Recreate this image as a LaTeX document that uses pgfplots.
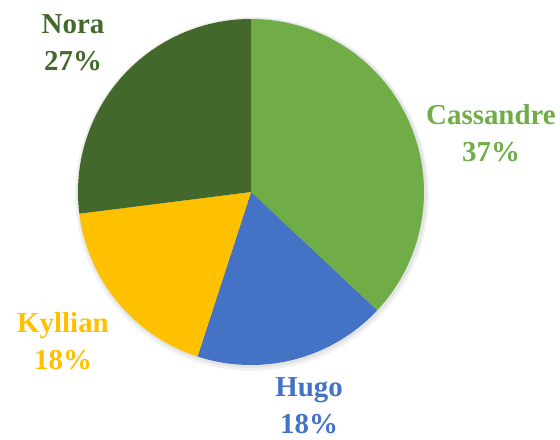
\documentclass[border=0pt]{standalone}
\usepackage{pgfplots}
\pgfplotsset{compat=1.18}
\usepackage{fontspec}
\setmainfont{Liberation Serif}
\definecolor{cCas}{HTML}{70AD47}
\definecolor{cHugo}{HTML}{4472C4}
\definecolor{cKyl}{HTML}{FFC000}
\definecolor{cNora}{HTML}{43682B}
% shares in percent
\def\vCas{37}\def\vHugo{18}\def\vKyl{18}\def\vNora{27}
\pgfmathsetmacro{\aA}{90}
\pgfmathsetmacro{\aB}{\aA-3.6*\vCas}
\pgfmathsetmacro{\aC}{\aB-3.6*\vHugo}
\pgfmathsetmacro{\aD}{\aC-3.6*\vKyl}
\pgfmathsetmacro{\aE}{\aD-3.6*\vNora}
\def\cx{251}\def\cy{248}\def\rr{173}
\begin{document}
\begin{tikzpicture}
\begin{axis}[
  scale only axis, width=560bp, height=440bp,
  xmin=0, xmax=560, ymin=0, ymax=440,
  hide axis, clip=false,
]
% soft shadow
\addplot[draw=none, fill=black, fill opacity=0.05, domain=0:360, samples=90]
  ({\cx+1+(\rr+4)*cos(x)},{\cy-2+(\rr+4)*sin(x)}) -- cycle;
\addplot[draw=none, fill=black, fill opacity=0.06, domain=0:360, samples=90]
  ({\cx+1+(\rr+2)*cos(x)},{\cy-1+(\rr+2)*sin(x)}) -- cycle;
% slices
\addplot[draw=none, fill=cCas, domain=\aB:\aA, samples=80]
  ({\cx+\rr*cos(x)},{\cy+\rr*sin(x)}) -- (axis cs:\cx,\cy) -- cycle;
\addplot[draw=none, fill=cHugo, domain=\aC:\aB, samples=60]
  ({\cx+\rr*cos(x)},{\cy+\rr*sin(x)}) -- (axis cs:\cx,\cy) -- cycle;
\addplot[draw=none, fill=cKyl, domain=\aD:\aC, samples=60]
  ({\cx+\rr*cos(x)},{\cy+\rr*sin(x)}) -- (axis cs:\cx,\cy) -- cycle;
\addplot[draw=none, fill=cNora, domain=\aE:\aD, samples=70]
  ({\cx+\rr*cos(x)},{\cy+\rr*sin(x)}) -- (axis cs:\cx,\cy) -- cycle;
% labels
\tikzset{lab/.style={align=center, font=\fontsize{29}{37}\selectfont\bfseries, inner sep=0pt}}
\node[lab, text=cNora] at (axis cs:73,397) {Nora\\27\%};
\node[lab, text=cCas] at (axis cs:491,307) {Cassandre\\37\%};
\node[lab, text=cKyl] at (axis cs:63,99) {Kyllian\\18\%};
\node[lab, text=cHugo] at (axis cs:309,34) {Hugo\\18\%};
\end{axis}
\pgfresetboundingbox
\useasboundingbox (0,0) rectangle (560bp,440bp);
\end{tikzpicture}
\end{document}
